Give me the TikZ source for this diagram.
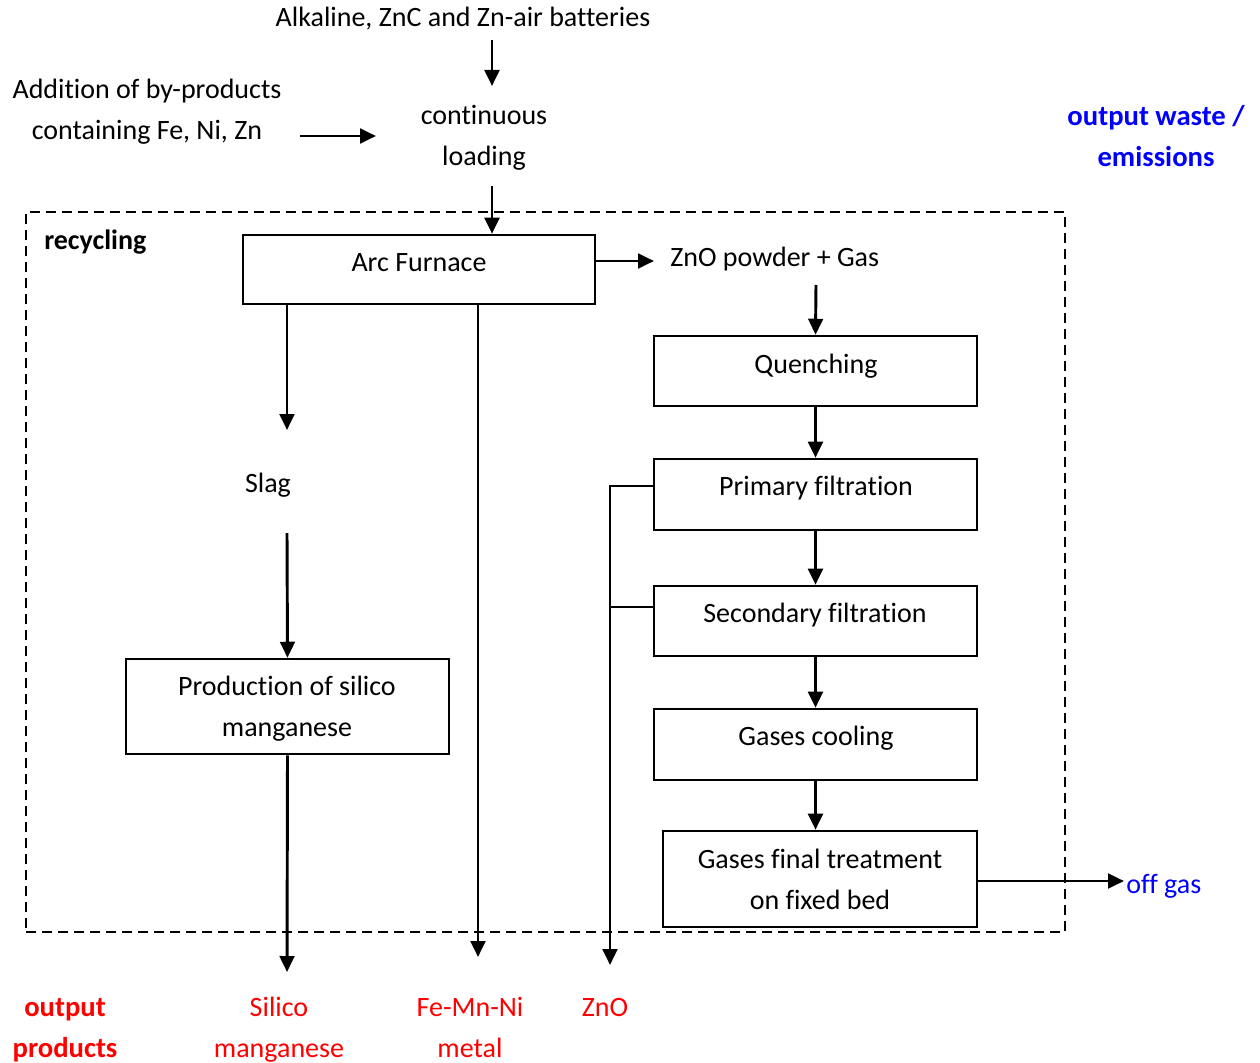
\documentclass[tikz,border=0pt]{standalone}
\usepackage{fontspec}
\setmainfont[Ligatures=CommonOff]{Carlito}
\usetikzlibrary{arrows.meta}
\definecolor{wasteblue}{RGB}{0,0,255}
\definecolor{prodred}{RGB}{255,0,0}
\begin{document}
\begin{tikzpicture}[x=0.75pt,y=-0.75pt,
  every node/.style={font=\fontsize{21}{30.75}\selectfont, inner sep=0pt},
  txt/.style={anchor=base, align=center},
  box/.style={draw, line width=1.9pt, inner sep=0pt},
  arr/.style={line width=2.2pt, -{Triangle[length=12pt,width=11pt]}},
  ln/.style={line width=2.2pt},
  zone/.style={draw, line width=1.4pt, dash pattern=on 7.5pt off 4.5pt, inner sep=0pt},
]
\useasboundingbox (0,0) rectangle (1260,1063);

% recycling zone frame
\node[zone, minimum width=779.25pt, minimum height=540pt] (zone) at (545.5,572) {};
\node[txt, anchor=base west, font=\fontsize{21}{30.75}\selectfont\bfseries] (recyc) at (44,249) {recycling};

% inputs (multi-line labels are placed by the baseline of their last line)
\node[txt] (alk) at (463,27) {Alkaline, ZnC and Zn-air batteries};
\node[txt] (add) at (147,139) {Addition of by-products\\containing Fe, Ni, Zn};
\node[txt] (load) at (484,165) {continuous\\loading};
\node[txt, text=wasteblue, font=\fontsize{21.5}{30.75}\selectfont\bfseries] (waste) at (1156,166) {output waste /\\emissions};

% process boxes
\node[box, minimum width=264pt, minimum height=51.75pt] (furnace) at (419,269.5) {};
\node[txt] (furnacet) at (419,271) {Arc Furnace};
\node[txt, anchor=base west] (gas) at (670,266) {ZnO powder + Gas};

\node[box, minimum width=242.25pt, minimum height=52.5pt] (quench) at (815.5,371) {};
\node[txt] (quencht) at (816,373) {Quenching};
\node[box, minimum width=242.25pt, minimum height=53.25pt] (primary) at (815.5,494.5) {};
\node[txt] (primaryt) at (816,495) {Primary filtration};
\node[box, minimum width=242.25pt, minimum height=52.5pt] (secondary) at (815.5,621) {};
\node[txt] (secondaryt) at (815,622) {Secondary filtration};
\node[box, minimum width=242.25pt, minimum height=53.25pt] (cool) at (815.5,744.5) {};
\node[txt] (coolt) at (816,745) {Gases cooling};
\node[box, minimum width=235.5pt, minimum height=72pt] (final) at (820,879) {};
\node[txt] (finalt) at (820,909) {Gases final treatment\\on fixed bed};
\node[txt, anchor=base west, text=wasteblue] (offgas) at (1126,893) {off gas};

\node[txt] (slag) at (268,492) {Slag};
\node[box, minimum width=242.25pt, minimum height=71.25pt] (prod) at (287.5,706.5) {};
\node[txt] (prodt) at (287,736) {Production of silico\\manganese};

% outputs
\node[txt, text=prodred, font=\fontsize{21.5}{30.75}\selectfont\bfseries] (outprod) at (65,1057) {output\\products};
\node[txt, text=prodred] (silico) at (279,1057) {Silico\\manganese};
\node[txt, text=prodred] (metal) at (470,1057) {Fe-Mn-Ni\\metal};
\node[txt, text=prodred] (zno) at (605,1016) {ZnO};

% connector ends
\coordinate (alkout) at (492,40);
\coordinate (loadin) at (492,86);
\coordinate (addout) at (300,136);
\coordinate (loadleft) at (376,136);
\coordinate (loadout) at (492,186);
\coordinate (gasin) at (654,261);
\coordinate (gasout) at (816,285);
\coordinate (offgasin) at (1124,881);
\coordinate (slagin) at (287,430);
\coordinate (slagout) at (287,533);
\coordinate (silicoin) at (287,972);
\coordinate (metalin) at (478,957);
\coordinate (znotop) at (610,486);
\coordinate (znomid) at (610,607);
\coordinate (znoin) at (610,965);

% connectors
\draw[arr] (alkout) -- (loadin);
\draw[arr] (addout) -- (loadleft);
\draw[arr] (loadout) -- (loadout |- furnace.north);
\draw[arr] (furnace.east |- gasin) -- (gasin);
\draw[arr] (gasout) -- (quench.north);
\draw[arr] (quench.south) -- (primary.north);
\draw[arr] (primary.south) -- (secondary.north);
\draw[arr] (secondary.south) -- (cool.north);
\draw[arr] (cool.south) -- (cool.south |- final.north);
\draw[arr] (final.east |- offgasin) -- (offgasin);
\draw[arr] (slagin |- furnace.south) -- (slagin);
\draw[arr] (slagout) -- (prod.north);
\draw[arr] (prod.south) -- (silicoin);
\draw[arr] (metalin |- furnace.south) -- (metalin);
\draw[arr] (znotop -| primary.west) -- (znotop) -- (znoin);
\draw[ln] (znomid -| secondary.west) -- (znomid);
\end{tikzpicture}
\end{document}
